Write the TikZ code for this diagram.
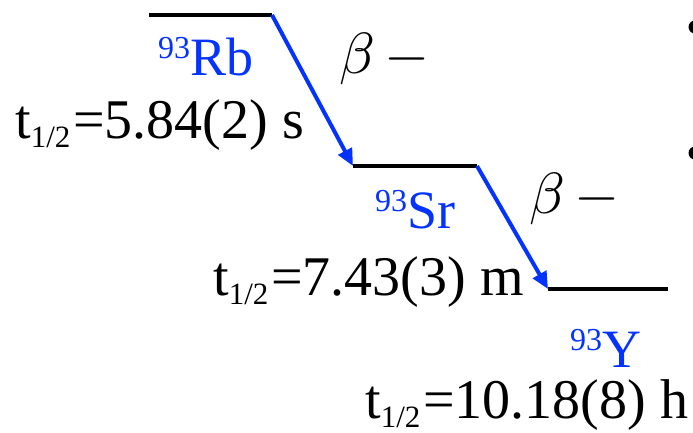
\documentclass[tikz,border=0pt]{standalone}
\usepackage{graphicx}
\usepackage{fontspec}
\setmainfont{Liberation Serif}
\usetikzlibrary{arrows.meta}
\definecolor{nucblue}{HTML}{0433FF}
\newcommand{\thalf}{t\raisebox{-9pt}{\fontsize{31}{31}\selectfont 1/2}\hspace{3pt}=}
\newcommand{\nucmass}[1]{\raisebox{17pt}{\fontsize{32}{32}\selectfont 93}#1}
\newcommand{\betaminus}{\scalebox{5.8}{\fontsize{10}{12}\selectfont$\beta\mskip 3mu -$}}
\tikzset{
  level/.style={line width=4pt, black},
  decay/.style={line width=4pt, nucblue, -{Triangle[length=17pt,width=15pt]}},
  nuclabel/.style={anchor=base west, inner sep=0pt, text=nucblue, font=\fontsize{54}{54}\selectfont},
  halflife/.style={anchor=base west, inner sep=0pt, font=\fontsize{56}{56}\selectfont},
  betalabel/.style={anchor=base west, inner sep=0pt},
  bulletdot/.style={fill=black, draw=none}
}
\begin{document}
\begin{tikzpicture}[x=1pt,y=-1pt]
\useasboundingbox (0,0) rectangle (693,432);
% level endpoints
\coordinate (rbL) at (149,15);
\coordinate (rbR) at (272,15);
\coordinate (srL) at (353,166);
\coordinate (srR) at (477,166);
\coordinate (yL) at (548,289);
\coordinate (yR) at (668,289);
% levels
\draw[level] (rbL) -- (rbR);
\draw[level] (srL) -- (srR);
\draw[level] (yL) -- (yR);
% decays
\draw[decay] (rbR) -- (srL);
\draw[decay] (srR) -- (yL);
% labels
\node[nuclabel] (rb) at (158,75) {\nucmass{Rb}};
\node[halflife] (rbt) at (15,138) {\thalf 5.84(2) s};
\node[nuclabel] (sr) at (375,228) {\nucmass{Sr}};
\node[halflife] (srt) at (213,295) {\thalf 7.43(3) m};
\node[nuclabel] (y) at (570,367) {\nucmass{Y}};
\node[halflife] (yt) at (365,418) {\thalf 10.18(8) h};
\node[betalabel] (b1) at (339,73) {\betaminus};
\node[betalabel] (b2) at (529,213) {\betaminus};
% cropped slide bullets
\fill[bulletdot] (695,27) circle (6.5);
\fill[bulletdot] (695,153) circle (6.5);
\end{tikzpicture}
\end{document}
